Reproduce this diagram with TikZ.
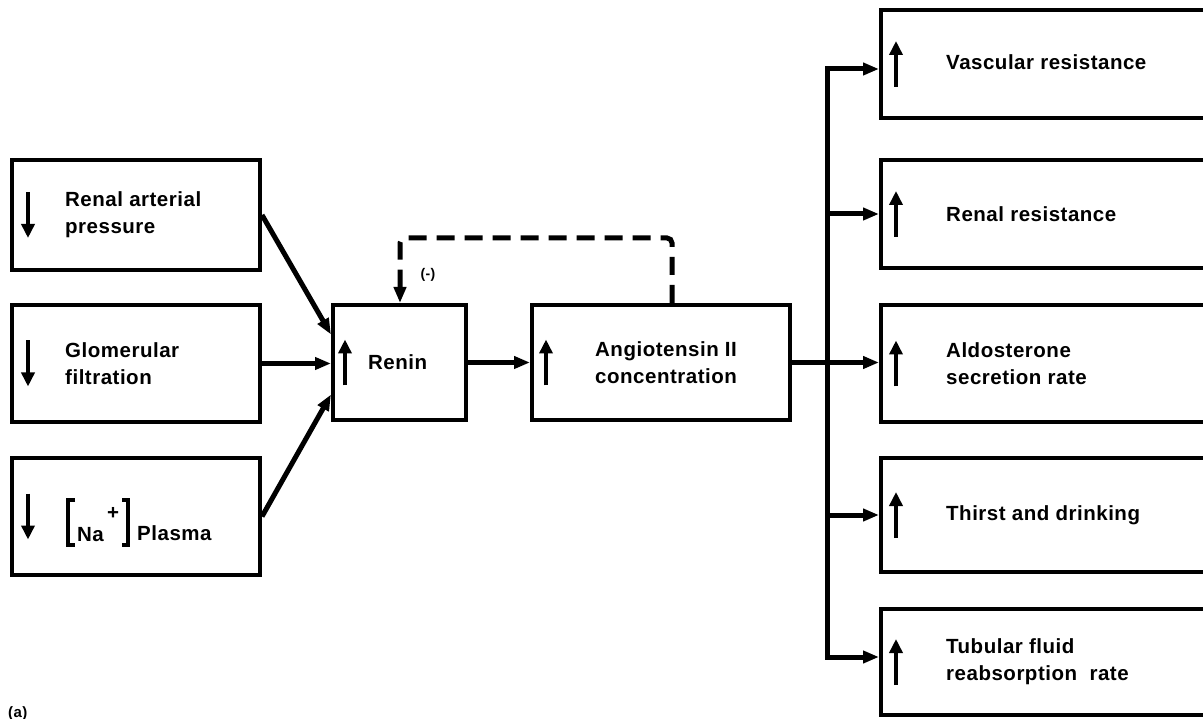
\documentclass[tikz,border=0pt]{standalone}
\usepackage{fontspec}
\setmainfont{Liberation Sans}[LetterSpace=2.5]
\usetikzlibrary{arrows.meta,calc}
\tikzset{
  box/.style={draw, line width=4pt, inner sep=0pt},
  lbl/.style={anchor=west, align=left, inner sep=0pt, font=\bfseries\fontsize{20.5}{27}\selectfont},
  basel/.style={anchor=base west, inner sep=0pt, font=\bfseries\fontsize{20.5}{27}\selectfont},
  conn/.style={line width=5pt, -{Triangle[length=16pt,width=12pt]}},
  bothconn/.style={line width=5pt, {Triangle[length=16pt,width=12pt]}-{Triangle[length=16pt,width=12pt]}},
  inarrow/.style={line width=4.5pt, -{Triangle[length=14pt,width=13pt]}},
  brk/.style={line width=3.2pt, line cap=butt},
  fb/.style={line width=5pt, dash pattern=on 18pt off 10pt, rounded corners=5pt, -{Triangle[length=16pt,width=12pt]}}
}
\begin{document}
\begin{tikzpicture}[x=1pt,y=-1pt]
\clip (0,0) rectangle (1203,719);
\fill[white] (0,0) rectangle (1203,719);
% left boxes
\node[box, minimum width=248pt, minimum height=110pt] (rap) at (136,215) {};
\node[box, minimum width=248pt, minimum height=117pt] (gf) at (136,363.5) {};
\node[box, minimum width=248pt, minimum height=117pt] (na) at (136,516.5) {};
% middle
\node[box, minimum width=133pt, minimum height=115pt] (renin) at (399.5,362.5) {};
\node[box, minimum width=258pt, minimum height=115pt] (ang) at (661,362.5) {};
% right boxes
\node[box, minimum width=339pt, minimum height=108pt] (vr) at (1050.5,64) {};
\node[box, minimum width=339pt, minimum height=108pt] (rr) at (1050.5,214) {};
\node[box, minimum width=339pt, minimum height=117pt] (ald) at (1050.5,363.5) {};
\node[box, minimum width=339pt, minimum height=114pt] (thirst) at (1050.5,515) {};
\node[box, minimum width=339pt, minimum height=106pt] (tub) at (1050.5,662) {};
% texts
\node[lbl] (trap) at ($(rap.west)+(55,0)$) {Renal arterial\\pressure};
\node[lbl] (tgf) at ($(gf.west)+(55,0)$) {Glomerular\\filtration};
\node[basel] (tnaa) at ($(na.west)+(67,24.5)$) {Na};
\node[inner sep=0pt, font=\bfseries\fontsize{20.5}{27}\selectfont] (tplus) at ($(na.west)+(103,-3)$) {+};
\node[basel] (tpl) at ($(na.west)+(127,23.5)$) {Plasma};
\draw[brk] ($(na.west)+(65,-16.5)$) -- ($(na.west)+(58,-16.5)$) -- ($(na.west)+(58,28.5)$) -- ($(na.west)+(65,28.5)$);
\draw[brk] ($(na.west)+(112,-16.5)$) -- ($(na.west)+(118,-16.5)$) -- ($(na.west)+(118,28.5)$) -- ($(na.west)+(112,28.5)$);
\node[lbl] (tren) at ($(renin.west)+(37,0)$) {Renin};
\node[lbl] (tang) at ($(ang.west)+(65,0)$) {Angiotensin II\\concentration};
\node[lbl] (tvr) at ($(vr.west)+(67,-2)$) {Vascular resistance};
\node[lbl] (trr) at ($(rr.west)+(67,0)$) {Renal resistance};
\node[lbl] (tald) at ($(ald.west)+(67,0)$) {Aldosterone\\secretion rate};
\node[lbl] (tthirst) at ($(thirst.west)+(67,0)$) {Thirst and drinking};
\node[lbl] (ttub) at ($(tub.west)+(67,0)$) {Tubular fluid\\reabsorption\ \ rate};
% in-box arrows
\foreach \b in {rap,gf,na}{
  \draw[inarrow] ($(\b.west)+(18,-23)$) -- ($(\b.west)+(18,23)$);
}
\draw[inarrow] ($(renin.west)+(14,23)$) -- ($(renin.west)+(14,-23)$);
\draw[inarrow] ($(ang.west)+(16,23)$) -- ($(ang.west)+(16,-23)$);
\foreach \b in {vr,rr,ald,thirst,tub}{
  \draw[inarrow] ($(\b.west)+(17,23)$) -- ($(\b.west)+(17,-23)$);
}
% connectors into renin
\draw[conn] (rap.east) -- ($(renin.west)+(0,-28)$);
\draw[conn] (gf.east) -- (gf.east -| renin.west);
\draw[conn] (na.east) -- ($(renin.west)+(0,32)$);
\draw[conn] (renin.east) -- (ang.west);
% trunk
\coordinate (tt) at (827,69);
\coordinate (tb) at (827,657);
\draw[conn] (ang.east) -- (ang.east -| ald.west);
\draw[bothconn] (tt -| vr.west) -- (tt) -- (tb) -- (tb -| tub.west);
\draw[conn] (tt |- rr.west) -- (rr.west);
\draw[conn] (tt |- thirst.west) -- (thirst.west);
% feedback
\coordinate (fa) at (672,238);
\coordinate (fbb) at (400,238);
\draw[fb] (fa |- ang.north) -- (fa) -- (fbb) -- (fbb |- renin.north);
\node[inner sep=0pt, font=\bfseries\fontsize{14}{14}\selectfont] (neg) at (428,275) {(-)};
\node[anchor=base west, inner sep=0pt, font=\bfseries\fontsize{15}{15}\selectfont] (cap) at (8,717) {(a)};
\end{tikzpicture}
\end{document}
